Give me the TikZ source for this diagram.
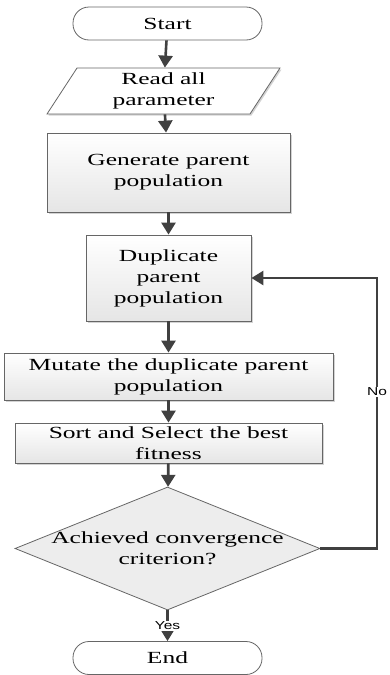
\documentclass[tikz,border=0pt]{standalone}
\usepackage{fontspec}
\setmainfont{Liberation Serif}[FakeStretch=1.5]
\newfontfamily\answerfont{Liberation Sans}[FakeStretch=1.35]
\usetikzlibrary{shapes.geometric,shadows,arrows.meta}

\tikzset{
  boxtext/.style={font=\fontsize{17}{21}\selectfont, align=center, inner sep=1pt},
  terminal/.style={boxtext, draw=black!60, fill=white, line width=0.8pt, rounded corners=16pt,
    minimum width=189pt, minimum height=33pt},
  iobox/.style={boxtext, trapezium, trapezium left angle=52, trapezium right angle=128,
    trapezium stretches body, draw=black!60, fill=white, line width=0.8pt,
    minimum width=233pt, minimum height=46pt,
    drop shadow={shadow xshift=1.5pt, shadow yshift=-1.5pt, opacity=.35}},
  procbox/.style={boxtext, draw=black!60, line width=0.8pt, top color=white, bottom color=black!10,
    drop shadow={shadow xshift=1.5pt, shadow yshift=-1.5pt, opacity=.35}},
  decision/.style={diamond, draw=black!60, line width=0.8pt, fill=black!7, inner sep=0pt,
    minimum width=305pt, minimum height=123pt},
  flowline/.style={draw=black!75, line width=2.6pt, -{Triangle[width=14pt,length=12pt]}},
  answer/.style={font=\answerfont\fontsize{11.5}{13}\selectfont, fill=white, inner sep=1pt}
}

\begin{document}
\begin{tikzpicture}[x=1pt, y=-1pt]
    \useasboundingbox (0,0) rectangle (390,675);

    \node[terminal] (start) at (167.5,23.5) {Start};
    \node[iobox] (read) at (163.5,91) {Read all\\parameter};
    \node[procbox, minimum width=243pt, minimum height=79pt] (gen) at (168.5,172.5) {Generate parent\\population};
    \node[procbox, minimum width=165pt, minimum height=86pt] (dup) at (168.5,278) {Duplicate\\parent\\population};
    \node[procbox, minimum width=329pt, minimum height=47pt] (mut) at (168.5,376.5) {Mutate the duplicate parent\\population};
    \node[procbox, minimum width=307pt, minimum height=40pt] (sort) at (168.5,443) {Sort and Select the best\\fitness};
    \node[decision, label={[boxtext]center:Achieved convergence\\criterion?}] (conv) at (167.5,548.5) {};
    \node[terminal] (end) at (167.5,658) {End};
    \coordinate (turn) at (377,548.5);

    \draw[flowline] (start) -- (read);
    \draw[flowline] (read) -- (gen);
    \draw[flowline] (gen) -- (dup);
    \draw[flowline] (dup) -- (mut);
    \draw[flowline] (mut) -- (sort);
    \draw[flowline] (sort) -- (conv);
    \draw[flowline] (conv) -- node[answer] {Yes} (end);
    \draw[flowline] (conv.east) -- (turn) |- node[answer, pos=0.29] {No} (dup.east);
\end{tikzpicture}
\end{document}
